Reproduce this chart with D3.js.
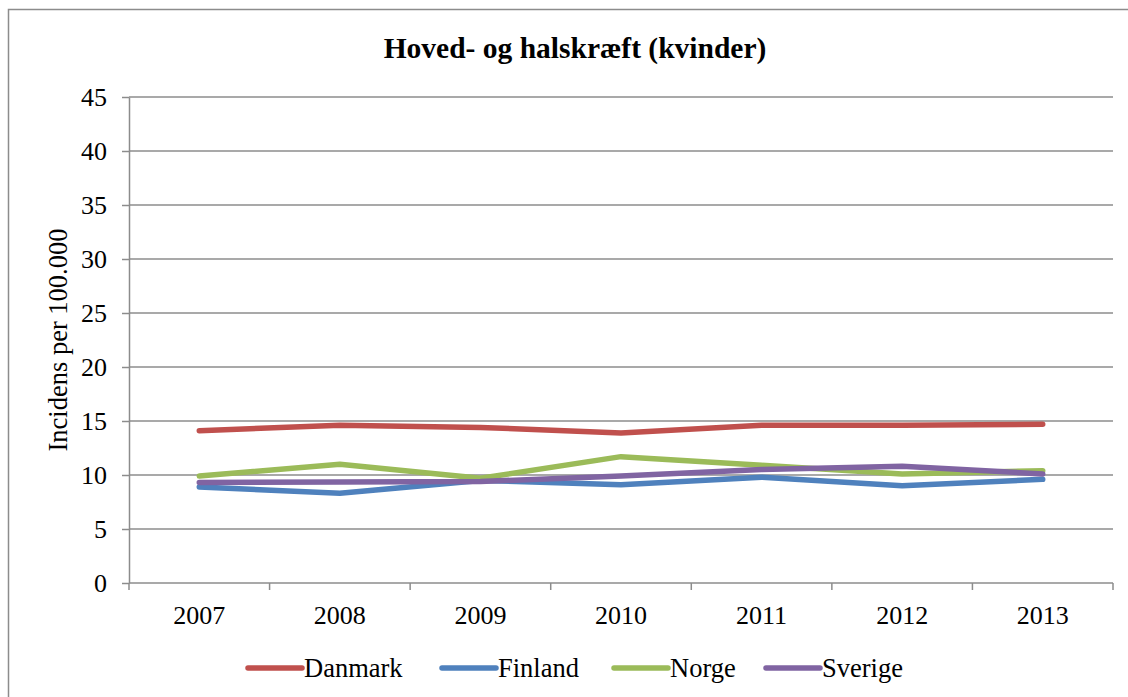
<!DOCTYPE html>
<html>
<head>
<meta charset="utf-8">
<script src="https://cdn.jsdelivr.net/npm/d3@7"></script>
<style>
  html, body { margin: 0; background: #fff; overflow: hidden; }
  svg { display: block; }
  text { font-family: "Liberation Serif", "Times New Roman", serif; fill: #000; }
</style>
</head>
<body>
<svg id="chart" width="1128" height="697"></svg>
<script>
const years = ['2007', '2008', '2009', '2010', '2011', '2012', '2013'];
const danmark = [14.1, 14.6, 14.4, 13.9, 14.6, 14.6, 14.7];
const finland = [8.9, 8.3, 9.5, 9.1, 9.8, 9.0, 9.6];
const norge = [9.9, 11.0, 9.7, 11.7, 10.9, 10.1, 10.4];
const sverige = [9.3, 9.35, 9.4, 9.9, 10.5, 10.8, 10.1];
const seriesNames = ['Danmark', 'Finland', 'Norge', 'Sverige'];
const seriesColors = ['#c0504d', '#4f81bd', '#9bbb59', '#8064a2'];
const yTicks = [0, 5, 10, 15, 20, 25, 30, 35, 40, 45];

const series = [danmark, finland, norge, sverige].map((vals, i) => ({
    name: seriesNames[i],
    color: seriesColors[i],
    values: vals
}));

const svg = d3.select("#chart");

// outer chart border: only left and top edges are inside the picture
svg.append("path")
    .attr("d", "M8.5,697V9.5H1128")
    .attr("fill", "none")
    .attr("stroke", "#8c8c8c")
    .attr("stroke-width", 1.5);

const plot = {left: 129, right: 1113, top: 97, bottom: 583};

const x = d3.scaleBand()
    .domain(years)
    .range([plot.left, plot.right]);

const y = d3.scaleLinear()
    .domain([0, 45])
    .range([plot.bottom, plot.top]);

// gridlines
svg.append("g")
    .selectAll("line")
    .data(yTicks.filter(d => d > 0))
    .join("line")
    .attr("x1", plot.left).attr("x2", plot.right)
    .attr("y1", d => y(d)).attr("y2", d => y(d))
    .attr("stroke", "#8c8c8c")
    .attr("stroke-width", 1.5);

// y axis
const yAxis = svg.append("g")
    .attr("transform", `translate(${plot.left},0)`)
    .call(d3.axisLeft(y).tickValues(yTicks).tickSize(7).tickPadding(15).tickSizeOuter(0));
yAxis.select(".domain").attr("stroke", "#8c8c8c").attr("stroke-width", 1.5);
yAxis.selectAll(".tick line").attr("stroke", "#8c8c8c").attr("stroke-width", 1.5);
yAxis.selectAll(".tick text")
    .style("font-size", "26px")
    .style("font-family", "'Liberation Serif', serif")
    .attr("fill", "#000");

// x axis: ticks at band boundaries
const xAxisG = svg.append("g")
    .attr("transform", `translate(0,${plot.bottom})`);
xAxisG.append("line")
    .attr("x1", plot.left).attr("x2", plot.right)
    .attr("stroke", "#8c8c8c").attr("stroke-width", 1.5);
xAxisG.selectAll(".xtick")
    .data(years.concat(["end"]))
    .join("line")
    .attr("class", "xtick")
    .attr("x1", (d, i) => i < years.length ? x(d) : x.range()[1])
    .attr("x2", (d, i) => i < years.length ? x(d) : x.range()[1])
    .attr("y1", 0).attr("y2", 7)
    .attr("stroke", "#8c8c8c").attr("stroke-width", 1.5);
xAxisG.selectAll(".xlabel")
    .data(years)
    .join("text")
    .attr("class", "xlabel")
    .attr("x", d => x(d) + x.bandwidth() / 2)
    .attr("y", 41)
    .attr("text-anchor", "middle")
    .style("font-size", "26px")
    .text(d => d);

// lines
const line = d3.line()
    .x((d, i) => x(years[i]) + x.bandwidth() / 2)
    .y(d => y(d));

svg.append("g")
    .selectAll("path")
    .data(series)
    .join("path")
    .attr("d", d => line(d.values))
    .attr("fill", "none")
    .attr("stroke", d => d.color)
    .attr("stroke-width", 5.5)
    .attr("stroke-linejoin", "round")
    .attr("stroke-linecap", "round");

// title
svg.append("text")
    .attr("x", 575).attr("y", 58)
    .attr("text-anchor", "middle")
    .style("font-size", "29.5px")
    .style("font-weight", "bold")
    .text("Hoved- og halskræft (kvinder)");

// y label
svg.append("text")
    .attr("transform", `translate(67,${(plot.top + plot.bottom) / 2}) rotate(-90)`)
    .attr("text-anchor", "middle")
    .style("font-size", "26.5px")
    .text("Incidens per 100.000");

// legend
const legendX = [246, 440, 612, 764];
const legend = svg.append("g")
    .selectAll("g")
    .data(series)
    .join("g")
    .attr("transform", (d, i) => `translate(${legendX[i]},668)`);
legend.append("line")
    .attr("x1", 2).attr("x2", 56)
    .attr("stroke", d => d.color)
    .attr("stroke-width", 5.5)
    .attr("stroke-linecap", "round");
legend.append("text")
    .attr("x", 58).attr("y", 9)
    .style("font-size", "26.5px")
    .text(d => d.name);
</script>
</body>
</html>
